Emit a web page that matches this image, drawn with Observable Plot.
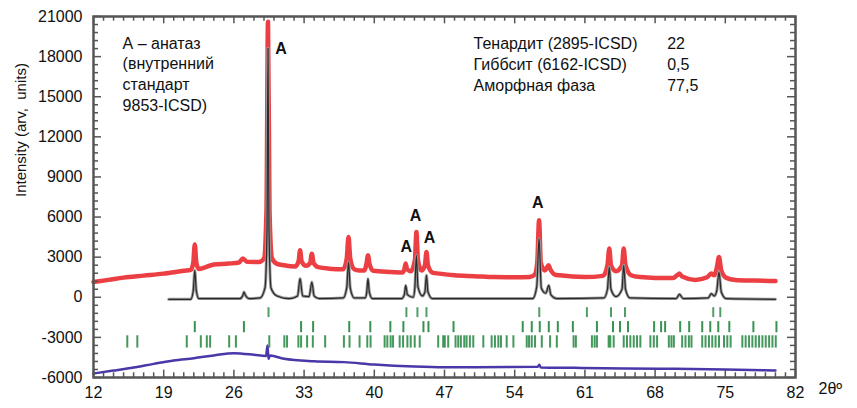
<!DOCTYPE html>
<html>
<head>
<meta charset="utf-8">
<script src="https://cdn.jsdelivr.net/npm/d3@7"></script>
<script src="https://cdn.jsdelivr.net/npm/@observablehq/plot@0.6"></script>
<style>
  html, body { margin: 0; padding: 0; background: #fff; }
  #chart svg { display: block; }
</style>
</head>
<body>
<div id="chart"></div>
<script>
// Axis tick labels
const xTickValues = [12, 19, 26, 33, 40, 47, 54, 61, 68, 75, 82];
const yTickValues = [-6000, -3000, 0, 3000, 6000, 9000, 12000, 15000, 18000, 21000];

// Observed pattern (2θ, counts)
const obsTheta = [12.0, 13.5, 15.0, 17.0, 19.0, 21.0, 21.7, 21.95, 22.1, 22.25, 22.5, 24.0, 25.5, 26.5, 26.9, 27.3, 28.5, 29.0, 29.25, 29.4, 29.55, 29.8, 30.3, 31.0, 32.1, 32.45, 32.6, 32.75, 33.2, 33.6, 33.77, 33.95, 34.4, 35.5, 36.9, 37.25, 37.43, 37.6, 38.0, 38.5, 39.0, 39.22, 39.37, 39.52, 39.9, 41.5, 42.8, 43.0, 43.13, 43.27, 43.65, 44.05, 44.2, 44.35, 44.7, 45.05, 45.2, 45.35, 45.8, 46.5, 48.0, 50.0, 52.0, 54.0, 55.5, 56.0, 56.25, 56.43, 56.6, 57.0, 57.2, 57.37, 57.55, 58.0, 58.5, 61.0, 62.8, 63.25, 63.43, 63.6, 64.1, 64.7, 64.87, 65.05, 65.6, 66.5, 68.0, 69.8, 70.2, 70.43, 70.7, 72.0, 73.2, 73.6, 73.9, 74.15, 74.37, 74.6, 75.1, 76.0, 78.0, 80.0];
const obsCounts = [1140, 1300, 1470, 1620, 1770, 1980, 2050, 2600, 3950, 2600, 2120, 2450, 2520, 2600, 2900, 2650, 2640, 2900, 6500, 20600, 6500, 2900, 2500, 2390, 2300, 2700, 3510, 2700, 2350, 2550, 3260, 2550, 2250, 2140, 2100, 2900, 4510, 2900, 2100, 2010, 2000, 2500, 3140, 2500, 1980, 1890, 1850, 2100, 2520, 2100, 1950, 2800, 4880, 2800, 2000, 2400, 3390, 2400, 1850, 1770, 1640, 1580, 1510, 1500, 1520, 1700, 2600, 5760, 2600, 2000, 2200, 2390, 2100, 1700, 1640, 1510, 1600, 2400, 3640, 2400, 1950, 2400, 3640, 2400, 1650, 1510, 1450, 1450, 1650, 1770, 1550, 1300, 1500, 1770, 1650, 2200, 3010, 2000, 1450, 1300, 1250, 1210];

// Calculated profile (2θ, counts)
const calcTheta = [19.5, 21.7, 21.95, 22.1, 22.25, 22.5, 26.6, 26.9, 27.0, 27.15, 27.5, 28.6, 29.1, 29.3, 29.4, 29.5, 29.7, 30.3, 31.5, 32.35, 32.6, 32.85, 33.5, 33.77, 34.0, 34.5, 36.9, 37.25, 37.43, 37.6, 38.0, 39.1, 39.25, 39.37, 39.5, 39.8, 42.7, 43.0, 43.13, 43.3, 43.9, 44.05, 44.2, 44.35, 44.8, 45.05, 45.2, 45.35, 45.8, 55.8, 56.2, 56.43, 56.65, 57.1, 57.4, 57.6, 58.2, 62.9, 63.25, 63.43, 63.6, 64.1, 64.7, 64.87, 65.05, 65.5, 70.1, 70.43, 70.8, 73.3, 73.6, 73.9, 74.15, 74.37, 74.6, 75.1, 80.0];
const calcCounts = [-150, -150, 500, 2010, 500, -100, -100, 150, 390, 150, -100, -50, 700, 5000, 18620, 5000, 700, 100, -100, 100, 1390, 100, 50, 1140, 100, -100, -50, 700, 2640, 700, -50, -50, 400, 1390, 400, -100, -100, 200, 890, 200, 0, 800, 3140, 800, 100, 400, 1640, 400, -100, -100, 800, 4390, 700, 300, 890, 200, -100, -50, 600, 2260, 600, 50, 600, 2390, 600, -50, -100, 220, -100, -50, 270, 100, 500, 1890, 400, -100, -150];

// Difference curve, shifted below zero (2θ, counts)
const diffTheta = [12, 14, 16, 18, 20, 22, 24, 26, 28, 29.2, 29.35, 29.45, 29.6, 31, 34, 37, 40, 44, 47, 50, 56.3, 56.45, 56.6, 60, 65, 70, 75, 80];
const diffCounts = [-5700, -5480, -5250, -4980, -4730, -4560, -4350, -4180, -4300, -4400, -3600, -4600, -4350, -4600, -4780, -4850, -5030, -5180, -5230, -5230, -5200, -5050, -5250, -5280, -5330, -5350, -5400, -5480];

// Reflection positions (2θ) for each phase
const anataseRefl = [29.45, 43.2, 44.3, 45.2, 56.45, 61.2, 63.6, 65.0, 73.8, 74.5];
const thenarditeRefl = [22.1, 27.0, 32.7, 33.9, 37.5, 39.6, 41.6, 42.9, 44.9, 45.4, 47.9, 54.8, 55.7, 56.5, 57.4, 58.3, 59.8, 62.2, 63.8, 64.5, 65.3, 67.9, 68.6, 69.0, 70.5, 71.4, 72.7, 73.5, 74.3, 75.4, 77.8, 80.1];
const gibbsiteRefl = [15.37, 16.37, 21.3, 22.7, 23.3, 23.63, 25.53, 26.2, 29.53, 31.03, 31.3, 32.43, 32.7, 33.3, 33.87, 35.1, 36.97, 37.53, 38.53, 39.3, 39.63, 41.03, 41.3, 41.63, 41.87, 42.53, 42.87, 43.3, 43.63, 44.03, 44.53, 46.37, 46.87, 47.03, 47.37, 48.1, 48.37, 48.63, 48.97, 49.2, 49.53, 49.87, 50.87, 51.7, 52.03, 52.37, 52.63, 53.2, 53.87, 55.2, 55.43, 55.7, 56.03, 56.7, 57.53, 58.2, 59.87, 60.1, 61.7, 61.97, 62.2, 63.37, 63.53, 63.87, 64.87, 65.2, 65.53, 65.87, 66.2, 66.53, 67.53, 67.87, 68.2, 69.37, 69.63, 69.87, 70.7, 71.03, 71.37, 71.63, 72.7, 73.03, 73.37, 73.7, 74.03, 74.37, 74.87, 75.2, 75.53, 76.7, 77.03, 77.37, 77.7, 78.03, 78.37, 78.7, 79.03, 79.37, 79.7, 80.03];

// Anatase peak markers (2θ, counts)
const markTheta = [30.7, 43.2, 44.1, 45.5, 56.3];
const markCounts = [18570, 3800, 6060, 4410, 7030];

// Text blocks
const noteLines = ["А – анатаз", "(внутренний", "стандарт", "9853-ICSD)"];
const phaseNames = ["Тенардит (2895-ICSD)", "Гиббсит (6162-ICSD)", "Аморфная фаза"];
const phaseShares = ["22", "0,5", "77,5"];

const toRows = (ts, vs) => ts.map((t, i) => ({t, v: vs[i]}));
const obs = toRows(obsTheta, obsCounts);
const calc = toRows(calcTheta, calcCounts);
const diff = toRows(diffTheta, diffCounts);
const marks = toRows(markTheta, markCounts);

const font = "'Liberation Sans', Arial, Helvetica, sans-serif";
const frameColor = "#555";
const green = "#23863e";

// Frame tick sets (drawn inward)
const yMinor = d3.range(-6000, 21001, 600);
const xMinor = d3.range(12, 82.01, 1);

const chart = Plot.plot({
  width: 857,
  height: 408,
  marginLeft: 93,
  marginRight: 62,
  marginTop: 16,
  marginBottom: 31,
  style: {fontFamily: font, fontSize: "16px", color: "#111", background: "#fff"},
  x: {domain: [12, 82]},
  y: {domain: [-6000, 21000]},
  marks: [
    // reflection tick rows
    Plot.ruleX(anataseRefl, {x: d => d, y1: -780, y2: -1520, stroke: green, strokeWidth: 2, strokeOpacity: 0.8}),
    Plot.ruleX(thenarditeRefl, {x: d => d, y1: -1820, y2: -2650, stroke: green, strokeWidth: 2, strokeOpacity: 0.9}),
    Plot.ruleX(gibbsiteRefl, {x: d => d, y1: -2880, y2: -3800, stroke: green, strokeWidth: 2, strokeOpacity: 0.85}),
    // difference curve
    Plot.line(diff, {x: "t", y: "v", curve: "monotone-x", stroke: "#4b37a8", strokeWidth: 2.5}),
    // observed
    Plot.line(obs, {x: "t", y: "v", curve: "monotone-x", stroke: "#ea2a2f", strokeWidth: 4.5, strokeOpacity: 0.9}),
    // calculated
    Plot.line(calc, {x: "t", y: "v", curve: "monotone-x", stroke: "#9a9a9a", strokeWidth: 3}),
    Plot.line(calc, {x: "t", y: "v", curve: "monotone-x", stroke: "#2a2a2a", strokeWidth: 1.2}),
    // anatase markers
    Plot.text(marks, {x: "t", y: "v", text: () => "A", fontWeight: "bold", fontSize: 16, fill: "#111"}),
    // notes
    Plot.text([noteLines.join("\n")], {x: 14.9, y: 16770, textAnchor: "start", lineHeight: 1.29, fontSize: 16, fill: "#111"}),
    Plot.text([phaseNames.join("\n")], {x: 49.9, y: 17530, textAnchor: "start", lineHeight: 1.31, fontSize: 16, fill: "#111"}),
    Plot.text([phaseShares.join("\n")], {x: 69.2, y: 17530, textAnchor: "start", lineHeight: 1.31, fontSize: 16, fill: "#111"}),
    // inward frame ticks
    Plot.ruleY(yMinor, {y: d => d, x1: 12, x2: d => (d % 3000 === 0 ? 12.8 : 12.5), stroke: frameColor, strokeWidth: 1.5}),
    Plot.ruleY(yMinor, {y: d => d, x1: 82, x2: d => (d % 3000 === 0 ? 81.2 : 81.5), stroke: frameColor, strokeWidth: 1.5}),
    Plot.ruleX(xMinor, {x: d => d, y1: -6000, y2: d => ((d - 12) % 7 === 0 ? -5450 : -5650), stroke: frameColor, strokeWidth: 1.5}),
    Plot.ruleX(xMinor, {x: d => d, y1: 21000, y2: d => ((d - 12) % 7 === 0 ? 20450 : 20650), stroke: frameColor, strokeWidth: 1.5}),
    Plot.frame({stroke: frameColor, strokeWidth: 2.5}),
    Plot.axisX({ticks: xTickValues, tickSize: 0, tickPadding: 9, label: null, fontSize: 16}),
    Plot.axisY({ticks: yTickValues, tickSize: 0, tickPadding: 11, label: null, fontSize: 16, tickFormat: d => String(d)}),
    // axis titles
    Plot.text(["Intensity (arv,  units)"], {frameAnchor: "left", dx: -72, rotate: -90, fontSize: 15, fill: "#111"}),
    Plot.text(["2θº"], {frameAnchor: "bottom-right", dx: 23, dy: 16, textAnchor: "start", fontSize: 16, fill: "#111"})
  ]
});

document.getElementById("chart").appendChild(chart);
</script>
</body>
</html>
